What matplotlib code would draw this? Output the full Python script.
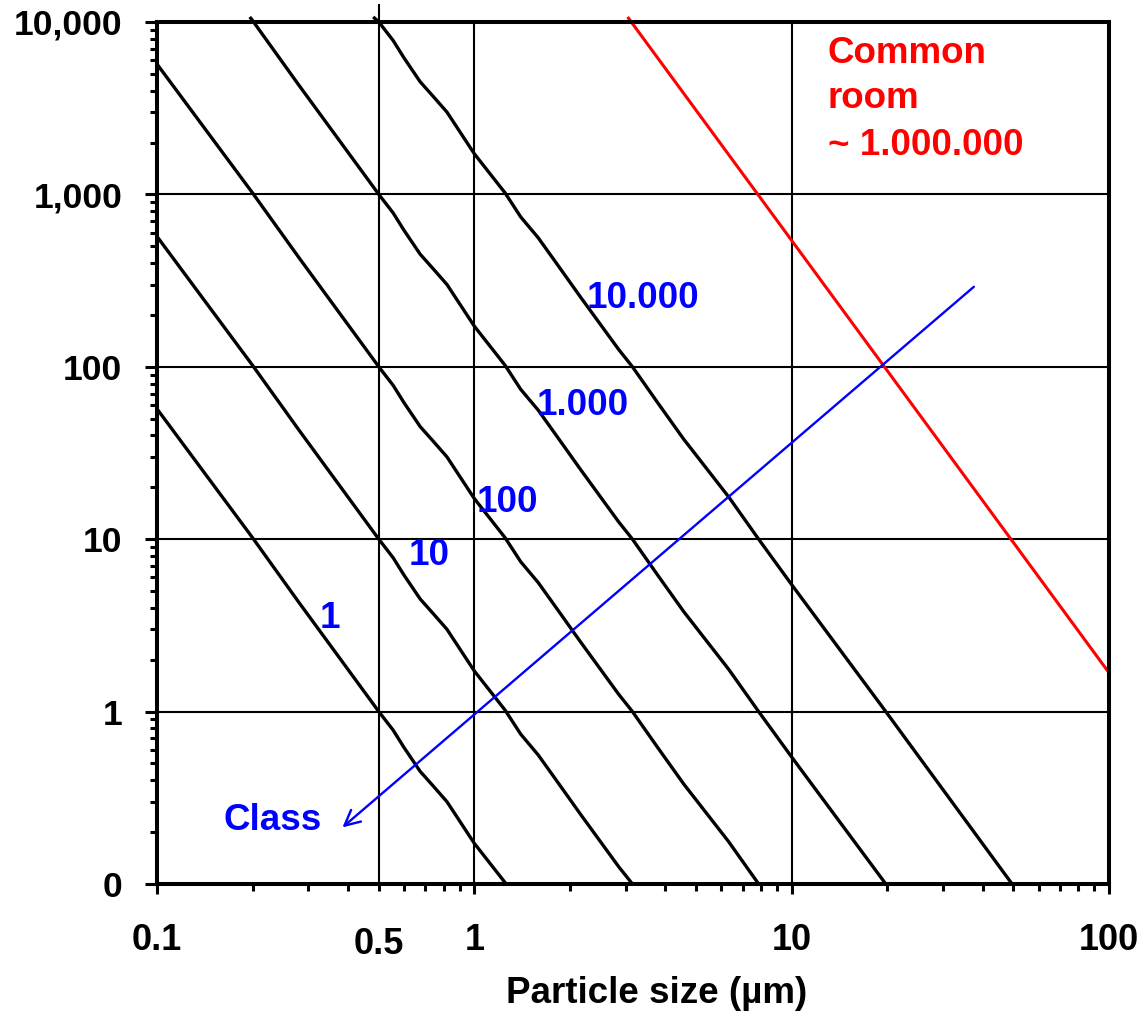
import matplotlib
matplotlib.use('Agg')
import matplotlib.pyplot as plt
import matplotlib.transforms as mtransforms
from matplotlib.ticker import FixedLocator, FixedFormatter, LogLocator, NullFormatter

plt.rcParams['font.family'] = ['Liberation Sans', 'DejaVu Sans']
plt.rcParams['font.weight'] = 'bold'

# ---------------- data ----------------
class_labels = ['1', '10', '100', '1.000', '10.000']

size_c1 = [0.1, 0.2, 0.28, 0.5, 0.555, 0.6, 0.675, 0.745, 0.82, 1.0, 1.26]
conc_c1 = [57, 10.2, 4.3, 1.0, 0.78, 0.62, 0.45, 0.367, 0.30, 0.172, 0.1]

size_c10 = [0.1, 0.2, 0.28, 0.5, 0.555, 0.6, 0.675, 0.745, 0.82, 1.0, 1.25, 1.40,
            1.59, 1.83, 2.16, 2.85, 3.15]
conc_c10 = [570, 102, 43, 10, 7.8, 6.2, 4.5, 3.67, 3.0, 1.72, 1.02, 0.74,
            0.56, 0.39, 0.254, 0.126, 0.1]

size_c100 = [0.1, 0.2, 0.28, 0.5, 0.555, 0.6, 0.675, 0.745, 0.82, 1.0, 1.25, 1.40,
             1.59, 1.83, 2.16, 2.85, 3.15, 3.78, 4.57, 6.33, 7.87]
conc_c100 = [5700, 1020, 430, 100, 78, 62, 45, 36.7, 30, 17.2, 10.2, 7.4,
             5.6, 3.9, 2.54, 1.26, 1.0, 0.62, 0.38, 0.176, 0.1]

size_c1000 = [0.196, 0.2, 0.28, 0.5, 0.555, 0.6, 0.675, 0.745, 0.82, 1.0, 1.25, 1.40,
              1.59, 1.83, 2.16, 2.85, 3.15, 3.78, 4.57, 6.33, 7.87, 10, 19.8]
conc_c1000 = [10700, 10200, 4300, 1000, 780, 620, 450, 367, 300, 172, 102, 74,
              56, 39, 25.4, 12.6, 10, 6.2, 3.8, 1.76, 1.0, 0.545, 0.1]

size_c10000 = [0.48, 0.5, 0.555, 0.6, 0.675, 0.745, 0.82, 1.0, 1.25, 1.40, 1.59,
               1.83, 2.16, 2.85, 3.15, 3.78, 4.57, 6.33, 7.87, 10, 19.8, 49.5]
conc_c10000 = [10700, 10000, 7800, 6200, 4500, 3670, 3000, 1720, 1020, 740, 560,
               390, 254, 126, 100, 62, 38, 17.6, 10, 5.45, 1.0, 0.1]

size_common = [3.04, 100]
conc_common = [10700, 1.68]

class_arrow_start = (37.5, 291)
class_arrow_end = (0.384, 0.213)

y_ticks = [0.1, 1, 10, 100, 1000, 10000]
y_ticklabels = ['0', '1', '10', '100', '1,000', '10,000']
x_ticks = [0.1, 1, 10, 100]
x_ticklabels = ['0.1', '1', '10', '100']

# label positions (data coords)
label_pos = [(0.350, 3.07), (0.721, 7.11), (1.271, 14.4), (2.19, 52.7), (3.39, 220)]

# ---------------- figure ----------------
W, H = 1142, 1011
fig = plt.figure(figsize=(W / 100, H / 100), dpi=100)
ax = fig.add_axes([157 / W, 1 - 884 / H, 952 / W, 862 / H])
ax.set_xscale('log')
ax.set_yscale('log')
ax.set_xlim(0.1, 100)
ax.set_ylim(0.1, 10000)

# grid
for yv in [1, 10, 100, 1000]:
    ax.axhline(yv, color='black', lw=1.5, zorder=1)
for xv in [1, 10]:
    ax.axvline(xv, color='black', lw=1.5, zorder=1)
ax.axvline(0.5, ymin=0, ymax=1 + 17 / 862, color='black', lw=1.5, zorder=1, clip_on=False)

# class lines
series = [(size_c1, conc_c1), (size_c10, conc_c10), (size_c100, conc_c100),
          (size_c1000, conc_c1000), (size_c10000, conc_c10000)]
for xs, ys in series:
    ax.plot(xs, ys, color='black', lw=2.4, zorder=3, clip_on=False,
            solid_capstyle='butt', solid_joinstyle='round')

ax.plot(size_common, conc_common, color='#ff0000', lw=2.2, zorder=3, clip_on=False,
        solid_capstyle='butt')

ax.annotate('', xy=class_arrow_end, xytext=class_arrow_start,
            arrowprops=dict(arrowstyle='->,head_length=0.5,head_width=0.25',
                            color='#0000ff', lw=1.7, shrinkA=0, shrinkB=0,
                            mutation_scale=22), zorder=4)

fs = 26.5
for lab, (lx, ly) in zip(class_labels, label_pos):
    ax.text(lx, ly, lab, color='#0000ff', fontsize=fs, fontweight='bold',
            ha='center', va='baseline', zorder=5)
ax.text(0.232, 0.207, 'Class', color='#0000ff', fontsize=fs, fontweight='bold',
        ha='center', va='baseline', zorder=5)

for txt, yv in [('Common', 5785), ('room', 3172), ('~ 1.000.000', 1694)]:
    ax.text(13.0, yv, txt, color='#ff0000', fontsize=fs, fontweight='bold',
            ha='left', va='baseline', zorder=5)

# axes styling
for sp in ax.spines.values():
    sp.set_linewidth(2.9)
    sp.set_zorder(6)

ax.yaxis.set_major_locator(FixedLocator(y_ticks))
ax.yaxis.set_major_formatter(FixedFormatter(y_ticklabels))
ax.xaxis.set_major_locator(FixedLocator(x_ticks))
ax.xaxis.set_major_formatter(FixedFormatter(x_ticklabels))
ax.xaxis.set_minor_locator(LogLocator(base=10, subs=range(2, 10), numticks=20))
ax.yaxis.set_minor_locator(LogLocator(base=10, subs=range(2, 10), numticks=20))
ax.xaxis.set_minor_formatter(NullFormatter())
ax.yaxis.set_minor_formatter(NullFormatter())

ax.tick_params(axis='both', which='major', direction='out', width=2.2)
ax.tick_params(axis='y', which='major', length=8.6, pad=16.5, labelsize=25.5)
ax.tick_params(axis='x', which='major', length=7.2, pad=21, labelsize=26)
ax.tick_params(axis='both', which='minor', direction='out', width=2.2, length=5.3)

trans = mtransforms.blended_transform_factory(ax.transData, ax.transAxes)
ax.text(0.5, -70 / 862, '0.5', transform=trans, fontsize=26, fontweight='bold',
        ha='center', va='baseline')

fig.text(657 / W, 1 - 1003 / H, 'Particle size (µm)', fontsize=fs, fontweight='bold',
         ha='center', va='baseline')

fig.savefig('out.png', dpi=100)
